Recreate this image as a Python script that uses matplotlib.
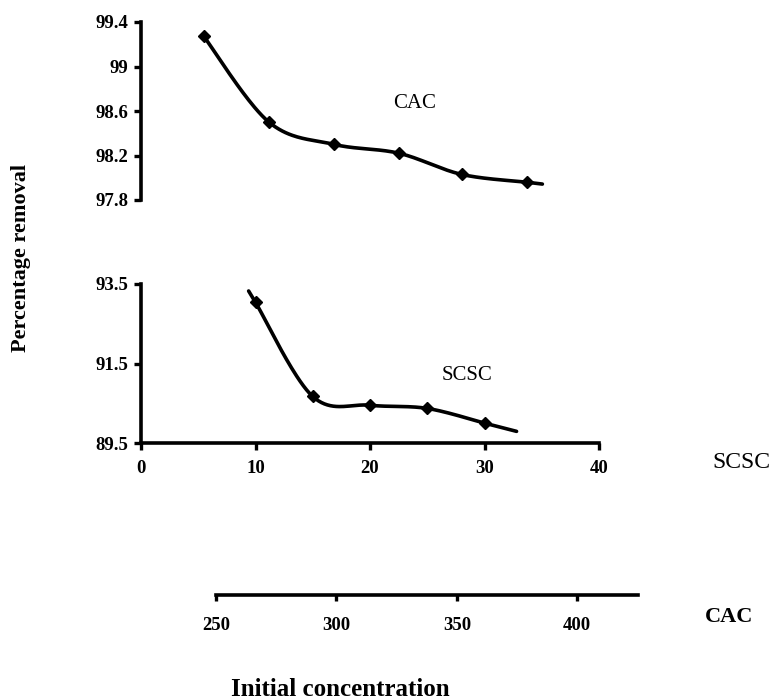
import numpy as np
import matplotlib
matplotlib.use("Agg")
import matplotlib.pyplot as plt

# ---- data ----
cac_conc = [245, 272, 299, 326, 352, 379]
cac_removal = [99.27, 98.50, 98.30, 98.22, 98.03, 97.96]
scsc_conc = [10, 15, 20, 25, 30]
scsc_removal = [93.04, 90.67, 90.45, 90.37, 90.00]

cac_yticks = [97.8, 98.2, 98.6, 99.0, 99.4]
cac_yticklabels = ["97.8", "98.2", "98.6", "99", "99.4"]
scsc_yticks = [89.5, 91.5, 93.5]
scsc_yticklabels = ["89.5", "91.5", "93.5"]
scsc_xticks = [0, 10, 20, 30, 40]
cac_xticks = [250, 300, 350, 400]

W, H = 780, 699
fig = plt.figure(figsize=(W / 100, H / 100), dpi=100)
plt.rcParams['font.family'] = ['Liberation Serif', 'DejaVu Serif']


def rect(x0, y0, x1, y1):
    return [x0 / W, 1 - y1 / H, (x1 - x0) / W, (y1 - y0) / H]


def fx(x, y):
    return x / W, 1 - y / H


def smooth(xv, yv, ext0=0.0, ext1=0.0, n=40):
    """Excel-like smoothed line (Catmull-Rom Bezier) with straight end extensions."""
    P = np.column_stack([xv, yv]).astype(float)
    Pe = np.vstack([P[0], P, P[-1]])
    pts = []
    t = np.linspace(0, 1, n)[:, None]
    for i in range(len(P) - 1):
        p0, p3 = Pe[i + 1], Pe[i + 2]
        c1 = p0 + (Pe[i + 2] - Pe[i]) / 6
        c2 = p3 - (Pe[i + 3] - Pe[i + 1]) / 6
        seg = ((1 - t) ** 3) * p0 + 3 * ((1 - t) ** 2) * t * c1 + 3 * (1 - t) * t ** 2 * c2 + t ** 3 * p3
        pts.append(seg)
    pts = np.vstack(pts)
    if ext0:
        d = P[1] - P[0]
        start = P[0] - d / d[0] * ext0
        pts = np.vstack([start, pts])
    if ext1:
        d = P[-1] - P[-2]
        end = P[-1] + d / d[0] * ext1
        pts = np.vstack([pts, end])
    return pts[:, 0], pts[:, 1]


tickfont = dict(fontsize=13.5, fontweight='bold')
LW = 2.6

# ---- top panel (CAC) ----
ax1 = fig.add_axes(rect(141, 22, 599, 200))
ax1.set_xlim(218.9, 409.0)
ax1.set_ylim(97.8, 99.4)
sx, sy = smooth(cac_conc, cac_removal, 0, 6.5)
ax1.plot(sx, sy, color='black', lw=LW, solid_capstyle='round', clip_on=False)
ax1.plot(cac_conc, cac_removal, 'D', color='black', ms=6.5, clip_on=False)
for s in ['top', 'right', 'bottom']:
    ax1.spines[s].set_visible(False)
ax1.spines['left'].set_linewidth(LW)
ax1.set_xticks([])
ax1.set_yticks(cac_yticks)
ax1.set_yticklabels(cac_yticklabels, **tickfont)
ax1.tick_params(axis='y', direction='out', length=5, width=2.4, pad=4)
ax1.patch.set_alpha(0)

# ---- bottom panel (SCSC) ----
ax2 = fig.add_axes(rect(141, 284, 599, 443))
ax2.set_xlim(0, 40)
ax2.set_ylim(89.5, 93.5)
sx2, sy2 = smooth(scsc_conc, scsc_removal, 0.6, 2.8)
ax2.plot(sx2, sy2, color='black', lw=LW, solid_capstyle='round', clip_on=False)
ax2.plot(scsc_conc, scsc_removal, 'D', color='black', ms=6.5, clip_on=False)
for s in ['top', 'right']:
    ax2.spines[s].set_visible(False)
ax2.spines['left'].set_linewidth(LW)
ax2.spines['bottom'].set_linewidth(LW)
ax2.set_yticks(scsc_yticks)
ax2.set_yticklabels(scsc_yticklabels, **tickfont)
ax2.set_xticks(scsc_xticks)
ax2.set_xticklabels([str(v) for v in scsc_xticks], **tickfont)
ax2.tick_params(axis='both', direction='out', length=5, width=2.4, pad=4)
ax2.tick_params(axis='x', pad=7)
ax2.patch.set_alpha(0)

# ---- separate CAC concentration axis ----
ax3 = fig.add_axes(rect(216, 594, 638, 595))
ax3.set_xlim(250, 425.2)
ax3.set_ylim(0, 1)
for s in ['top', 'right', 'left']:
    ax3.spines[s].set_visible(False)
ax3.spines['bottom'].set_linewidth(LW)
ax3.set_yticks([])
ax3.set_xticks(cac_xticks)
ax3.set_xticklabels([str(v) for v in cac_xticks], **tickfont)
ax3.tick_params(axis='x', direction='out', length=4, width=2.4, pad=12)
ax3.patch.set_alpha(0)

# ---- texts ----
fig.text(*fx(415, 103), "CAC", ha='center', va='center', fontsize=15)
fig.text(*fx(467, 376), "SCSC", ha='center', va='center', fontsize=15)
fig.text(*fx(741, 463), "SCSC", ha='center', va='center', fontsize=17)
fig.text(*fx(729, 617), "CAC", ha='center', va='center', fontsize=16, fontweight='bold')
fig.text(*fx(340, 689), "Initial concentration", ha='center', va='center', fontsize=18, fontweight='bold')
fig.text(*fx(21, 258), "Percentage removal", ha='center', va='center', fontsize=16,
         fontweight='bold', rotation=90)

fig.savefig("out.png", dpi=100)
